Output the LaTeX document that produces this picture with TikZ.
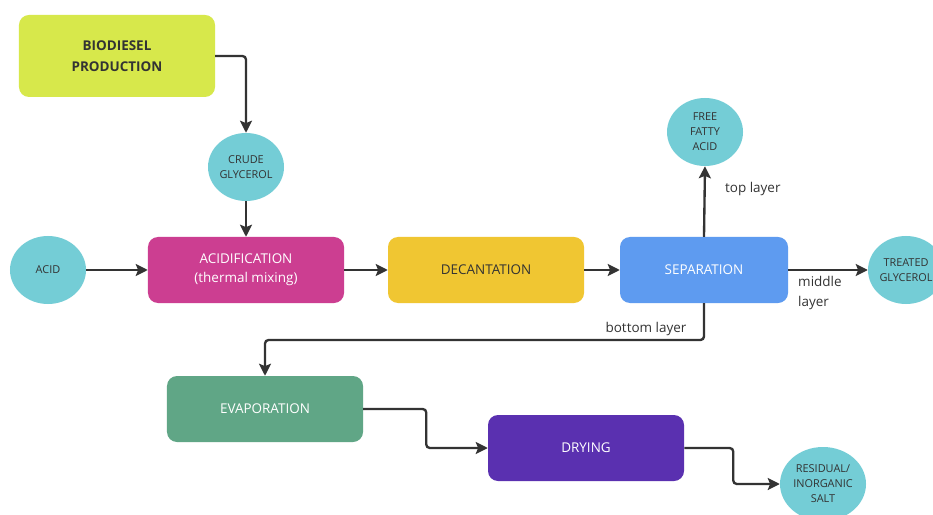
\documentclass[tikz,border=0pt]{standalone}
\usepackage{fontspec}
\setmainfont{Open Sans}
\usetikzlibrary{arrows.meta,shapes.geometric}
\definecolor{limefill}{RGB}{215,232,75}
\definecolor{streamfill}{RGB}{116,205,214}
\definecolor{acidfill}{RGB}{204,62,145}
\definecolor{decantfill}{RGB}{240,198,50}
\definecolor{sepfill}{RGB}{94,155,240}
\definecolor{evapfill}{RGB}{96,166,134}
\definecolor{dryfill}{RGB}{90,48,176}
\definecolor{linegray}{RGB}{51,51,51}
\begin{document}
\begin{tikzpicture}[x=0.03cm,y=-0.03cm,
  every node/.style={font=\fontsize{11.5}{16}\selectfont,align=center,text=linegray},
  procbox/.style={rectangle,rounded corners=0.3cm,minimum width=5.88cm,minimum height=1.98cm,inner sep=0pt},
  stream/.style={ellipse,fill=streamfill,minimum width=2.28cm,minimum height=2.04cm,inner sep=0pt,
    font=\fontsize{9.3}{12.8}\selectfont},
  flow/.style={draw=linegray,line width=2pt,rounded corners=3pt,-{Stealth[length=3.6mm,width=3.6mm,inset=0.7mm]}},
  lbl/.style={font=\fontsize{11.5}{17.5}\selectfont}]
  \clip (0,0) rectangle (933,515);
  \fill[white] (0,0) rectangle (933,515);

  % process boxes
  \node[procbox,fill=limefill,minimum height=2.46cm,font=\fontsize{11.5}{17.5}\bfseries] (bio) at (117,56) {BIODIESEL\\PRODUCTION};
  \node[procbox,fill=acidfill,text=white] (acidif) at (246,270) {ACIDIFICATION\\(thermal mixing)};
  \node[procbox,fill=decantfill] (decant) at (486,270) {DECANTATION};
  \node[procbox,fill=sepfill,text=white,minimum width=5.04cm] (sep) at (704,270) {SEPARATION};
  \node[procbox,fill=evapfill,text=white] (evap) at (265,409) {EVAPORATION};
  \node[procbox,fill=dryfill,text=white] (dry) at (586,448) {DRYING};

  % streams
  \node[stream] (crude) at (246,167) {CRUDE\\GLYCEROL};
  \node[stream] (acid) at (48,270) {ACID};
  \node[stream] (ffa) at (705,132) {FREE\\FATTY\\ACID};
  \node[stream] (treated) at (906,270) {TREATED\\GLYCEROL};
  \node[stream,minimum width=2.58cm,minimum height=2.22cm] (salt) at (823,484) {RESIDUAL/\\INORGANIC\\SALT};

  % connectors
  \draw[flow] (bio.east) -| (crude.north);
  \draw[flow] (crude.south) -- (acidif.north);
  \draw[flow] (acid.east) -- (acidif.west);
  \draw[flow] (acidif.east) -- (decant.west);
  \draw[flow] (decant.east) -- (sep.west);
  \draw[flow] (sep.north) -- (ffa.south);
  \draw[flow] (sep.east) -- (treated.west);
  \coordinate (bend) at (704,340);
  \draw[flow] (sep.south) -- (bend) -| (evap.north);
  \draw[flow] (evap.east) -- ++(63,0) |- (dry.west);
  \draw[flow] (dry.east) -- ++(49,0) |- (salt.west);

  % layer labels
  \node[lbl,anchor=west] (toplbl) at (721,189) {top layer};
  \node[lbl,anchor=north west,align=left,inner sep=0pt] (midlbl) at (798,276) {middle\\layer};
  \node[lbl] (botlbl) at (646,329) {bottom layer};
\end{tikzpicture}
\end{document}
